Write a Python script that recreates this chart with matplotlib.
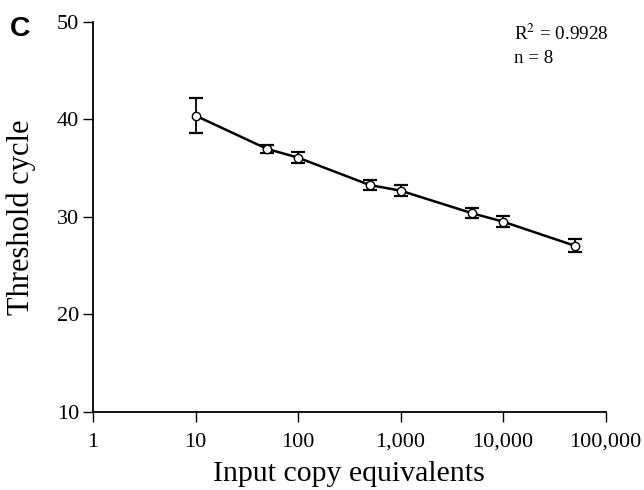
import matplotlib
matplotlib.use("Agg")
import matplotlib.pyplot as plt
import numpy as np

copies = [10, 50, 100, 500, 1000, 5000, 10000, 50000]
ct_mean = [40.39, 36.97, 36.08, 33.27, 32.69, 30.37, 29.51, 27.04]
ct_err = [1.77, 0.45, 0.55, 0.55, 0.55, 0.50, 0.60, 0.65]
xticks = [1, 10, 100, 1000, 10000, 100000]
xticklabels = ["1", "10", "100", "1,000", "10,000", "100,000"]
yticks = [10, 20, 30, 40, 50]

plt.rcParams['font.family'] = ['Liberation Serif', 'DejaVu Serif']
plt.rcParams['mathtext.fontset'] = 'stix'

fig = plt.figure(figsize=(6.44, 4.90), dpi=100)
ax = fig.add_axes([93/644, 1 - 411.7/490, (605.5 - 93)/644, (411.7 - 22)/490])

ax.plot(copies, ct_mean, color='black', lw=1.8, zorder=2)
ax.errorbar(copies, ct_mean, yerr=ct_err, fmt='none', ecolor='black',
            elinewidth=1.3, capsize=5, capthick=1.6, zorder=3)
ax.plot(copies, ct_mean, 'o', ms=6, mfc='white', mec='black', mew=1.0, zorder=4)

ax.set_xscale('log')
ax.set_xlim(1, 100000)
ax.set_ylim(10, 50)
ax.set_xticks(xticks)
ax.set_xticklabels(xticklabels)
ax.xaxis.set_minor_locator(matplotlib.ticker.NullLocator())
ax.set_yticks(yticks)

for s in ['top', 'right']:
    ax.spines[s].set_visible(False)
for s in ['left', 'bottom']:
    ax.spines[s].set_linewidth(1.3)

ax.tick_params(axis='both', which='major', direction='out', length=7, width=1.0,
               labelsize=16)
ax.tick_params(axis='x', pad=8)
ax.tick_params(axis='y', pad=3)

ax.set_xlabel("Input copy equivalents", fontsize=21.5)
ax.set_ylabel("Threshold cycle", fontsize=22)
ax.xaxis.set_label_coords(0.5, -(481 - 411.7) / (411.7 - 22), transform=ax.transAxes)
ax.xaxis.label.set_va('baseline')
ax.yaxis.set_label_coords(-(93 - 21) / (605.5 - 93), 0.5, transform=ax.transAxes)
ax.yaxis.label.set_va('center')

fig.text(514/644, 1 - 40/490, r"R$^2$ = 0.9928", fontsize=13.7, ha='left', va='baseline')
fig.text(514/644, 1 - 63/490, "n = 8", fontsize=13.7, ha='left', va='baseline')
fig.text(10/644, 1 - 36/490, "C", fontsize=20.5, fontweight='bold',
         family=['Liberation Sans', 'DejaVu Sans'], ha='left', va='baseline')

fig.savefig("out.png", dpi=100)
